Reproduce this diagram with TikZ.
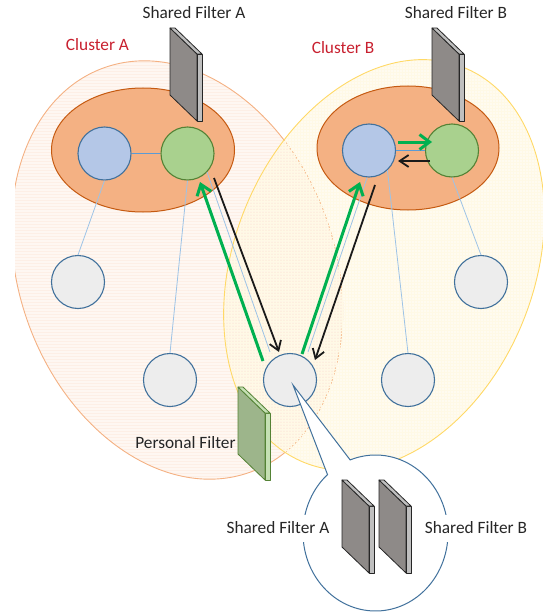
\documentclass[tikz,border=0pt]{standalone}
\usepackage{fontspec}
\setmainfont{Carlito}
\usetikzlibrary{arrows.meta,shapes.callouts,patterns,calc}

\definecolor{AFill}{HTML}{FBE3D3}
\definecolor{AHatch}{HTML}{F8CBAD}
\definecolor{AEdge}{HTML}{F4B183}
\definecolor{BFill}{HTML}{FFF2CC}
\definecolor{BHatch}{HTML}{FFE699}
\definecolor{BEdge}{HTML}{FFD966}
\definecolor{CoreFill}{HTML}{F4B183}
\definecolor{CoreEdge}{HTML}{C55A11}
\definecolor{NodeEdge}{HTML}{41719C}
\definecolor{LeadBlue}{HTML}{B4C7E7}
\definecolor{LeadGreen}{HTML}{A9D18E}
\definecolor{GreenEdge}{HTML}{548235}
\definecolor{PeerGray}{HTML}{EDEDED}
\definecolor{LinkBlue}{HTML}{9DC3E6}
\definecolor{CoreLink}{HTML}{5B9BD5}
\definecolor{FlowGreen}{HTML}{00B050}
\definecolor{FlowBlack}{HTML}{1A1A1A}
\definecolor{LabelText}{HTML}{262626}
\definecolor{ClusterRed}{HTML}{C8202F}
\definecolor{PanelFront}{HTML}{8E8A88}
\definecolor{PanelSide}{HTML}{BFBFBF}
\definecolor{PanelEdge}{HTML}{262626}
\definecolor{PFront}{HTML}{9DB58B}
\definecolor{PSide}{HTML}{C5E0B4}

% a thin 3D filter panel; #1,#2 = top-left corner of the front face
\newcommand\filterpanel[5]{%
  \filldraw[fill=#3, draw=#5, line width=0.8pt, line join=round]
    (#1,#2) -- ++(0,67) -- ++(27,26) -- ++(0,-67) -- cycle;
  \filldraw[fill=#4, draw=#5, line width=0.8pt, line join=round]
    (#1+27,#2+26) -- ++(5,0) -- ++(0,67) -- ++(-5,0) -- cycle;
  \filldraw[fill=#4, draw=#5, line width=0.8pt, line join=round]
    (#1,#2) -- ++(5,0) -- ++(27,26) -- ++(-5,0) -- cycle;
}

\begin{document}
\begin{tikzpicture}[x=1pt, y=-1pt,
  member/.style={circle, draw=NodeEdge, line width=1.1pt, minimum size=53pt, inner sep=0pt},
  leader/.style={member, fill=LeadBlue},
  deputy/.style={member, fill=LeadGreen, draw=GreenEdge},
  peer/.style={member, fill=PeerGray},
  link/.style={draw=LinkBlue, line width=0.8pt},
  corelink/.style={draw=CoreLink, line width=1pt},
  pushflow/.style={draw=FlowGreen, line width=3pt,
    -{Straight Barb[length=10pt, width=15pt]}},
  pullflow/.style={draw=FlowBlack, line width=1.8pt,
    -{Straight Barb[length=9pt, width=12pt]}},
  lbl/.style={font=\fontsize{17.3}{20}\selectfont, text=LabelText, inner sep=0pt, anchor=base},
  clusterlbl/.style={lbl, text=ClusterRed},
  boxlbl/.style={lbl, fill=white, inner xsep=3pt, inner ysep=6pt, text height=12pt, text depth=3pt}
]
\useasboundingbox (0,0) rectangle (542,615);

% cluster regions
\begin{scope}
  \clip (15,0) rectangle (542,615);
  \fill[AFill, fill opacity=0.3, rotate around={20:(177,270)}]
    (177,270) ellipse [x radius=158pt, y radius=215pt];
  \fill[pattern=horizontal lines, pattern color=AHatch!30, rotate around={20:(177,270)}]
    (177,270) ellipse [x radius=158pt, y radius=215pt];
  \draw[AEdge, line width=0.9pt, rotate around={20:(177,270)}]
    (177,270) ellipse [x radius=158pt, y radius=215pt];
\end{scope}
\fill[BFill, fill opacity=0.3, rotate around={-22:(384,265)}]
  (384,265) ellipse [x radius=150pt, y radius=213pt];
\fill[pattern=grid, pattern color=BHatch!25, rotate around={-22:(384,265)}]
  (384,265) ellipse [x radius=150pt, y radius=213pt];
\draw[BEdge, line width=0.9pt, rotate around={-22:(384,265)}]
  (384,265) ellipse [x radius=150pt, y radius=213pt];

% cluster cores
\filldraw[fill=CoreFill, draw=CoreEdge, line width=1pt]
  (143,150) ellipse [x radius=91.5pt, y radius=62pt];
\filldraw[fill=CoreFill, draw=CoreEdge, line width=1pt]
  (408,148) ellipse [x radius=91pt, y radius=62pt];

% members
\node[leader] (Ab) at (104.5,153.5) {};
\node[deputy] (Ag) at (187.5,153.5) {};
\node[leader] (Bb) at (369,150.5) {};
\node[deputy] (Bg) at (452,150.5) {};
\node[peer] (Al) at (78,282) {};
\node[peer] (Ad) at (170,380) {};
\node[peer] (M)  at (290,380) {};
\node[peer] (Bd) at (408,380) {};
\node[peer] (Br) at (481,282) {};

% links
\draw[corelink] (Ab) -- (Ag);
\draw[corelink] (Bb) -- (Bg);
\draw[link] (Ab.south) -- (Al.north);
\draw[link] (Ag.south) -- (Ad.north);
\draw[link] (Bb.-47) -- (Bd.north);
\draw[link] (Bg.south) -- (Br.north);
\draw[link] ($(M)+(-20,-28)$) -- ($(Ag)+(19.5,18.5)$);
\draw[link] ($(M)+(18,-28)$) -- ($(Bb)+(-2,27.5)$);

% flows
\draw[pushflow] ($(M)+(-27,-19)$) -- ($(Ag)+(12.5,28.5)$);
\draw[pullflow] ($(Ag)+(26.5,24.5)$) -- ($(M)+(-11,-28)$);
\draw[pushflow] ($(M)+(12,-26)$) -- ($(Bb)+(-9,31.5)$);
\draw[pullflow] ($(Bb)+(6,34.5)$) -- ($(M)+(25,-20)$);
\draw[pushflow] ($(Bb)+(29,-8.5)$) -- ($(Bg)+(-20,-8.5)$);
\draw[pullflow] ($(Bg)+(-22,10.5)$) -- ($(Bb)+(29,10.5)$);

% shared and personal filters
\filterpanel{170}{28}{PanelFront}{PanelSide}{PanelEdge}
\filterpanel{432}{28}{PanelFront}{PanelSide}{PanelEdge}
\filterpanel{238}{387}{PFront}{PSide}{GreenEdge}

% magnified view of the member's filters
\coordinate (ptip) at ($(M)+(3,5)$);
\node[ellipse callout, draw=NodeEdge, fill=white, line width=1pt, inner sep=0pt,
      minimum width=145pt, minimum height=156pt,
      callout absolute pointer={(ptip)}, callout pointer arc=21] (zoomview) at (375.5,533) {};
\filterpanel{342}{480}{PanelFront}{PanelSide}{PanelEdge}
\filterpanel{379}{480}{PanelFront}{PanelSide}{PanelEdge}

% labels
\node[lbl] (tSA) at (194,19) {Shared Filter A};
\node[lbl] (tSB) at (456,19) {Shared Filter B};
\node[clusterlbl] (tCA) at (97.5,51) {Cluster A};
\node[clusterlbl] (tCB) at (343,54) {Cluster B};
\node[lbl] (tPF) at (185.5,448.5) {Personal Filter};
\node[boxlbl] (tZA) at (278,533) {Shared Filter A};
\node[boxlbl] (tZB) at (476,533) {Shared Filter B};
\end{tikzpicture}
\end{document}
